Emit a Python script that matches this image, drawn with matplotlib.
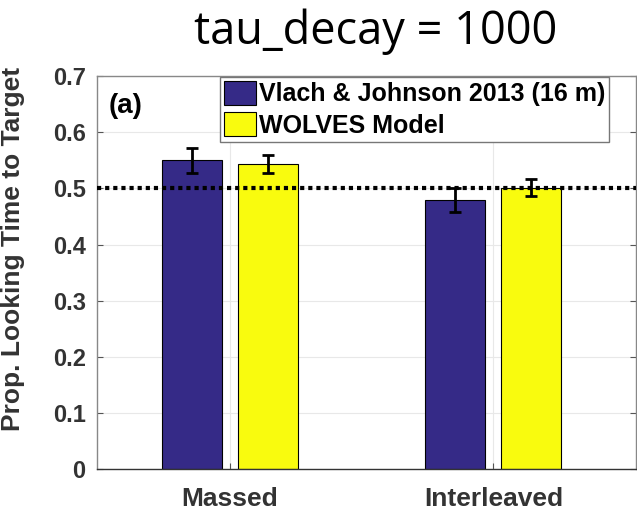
import numpy as np
import matplotlib
matplotlib.use('Agg')
import matplotlib.pyplot as plt

# data
conditions = ['Massed', 'Interleaved']
series = ['Vlach & Johnson 2013 (16 m)', 'WOLVES Model']
vlach = [0.550, 0.479]
vlach_err = [0.022, 0.021]
wolves = [0.543, 0.501]
wolves_err = [0.016, 0.015]
chance = 0.5

plt.rcParams['font.family'] = ['Liberation Sans', 'DejaVu Sans']
tc = '#333333'

fig = plt.figure(figsize=(6.37, 5.11), dpi=100)
ax = fig.add_axes([0.152, 0.082, 0.846, 0.769])

x = np.arange(1, len(conditions) + 1)
w = 0.227
off = 0.144
ax.bar(x - off, vlach, w, color='#352A87', edgecolor='black', lw=0.8,
       label=series[0], zorder=2)
ax.bar(x + off, wolves, w, color='#F9FB0E', edgecolor='black', lw=0.8,
       label=series[1], zorder=2)
ax.errorbar(x - off, vlach, yerr=vlach_err, fmt='none', ecolor='black',
            elinewidth=2, capsize=4, capthick=2, zorder=3)
ax.errorbar(x + off, wolves, yerr=wolves_err, fmt='none', ecolor='black',
            elinewidth=2, capsize=4, capthick=2, zorder=3)
ax.axhline(chance, color='black', lw=3, ls=(0, (1, 0.95)),
           dash_capstyle='butt', zorder=4)

ax.set_xlim(0.496, 2.54)
ax.set_ylim(0, 0.7)
ax.set_yticks(np.arange(0, 0.71, 0.1))
ax.set_yticklabels(['0'] + ['%.1f' % v for v in np.arange(0.1, 0.71, 0.1)])
ax.set_xticks(x)
ax.set_xticklabels(conditions)
ax.grid(True, color='#e8e8e8', lw=0.8, zorder=0)
ax.set_axisbelow(True)
ax.tick_params(axis='y', direction='in', length=4, color='#555555',
               labelsize=17, labelcolor=tc, right=True, pad=8)
ax.tick_params(axis='x', direction='in', length=4, color='#555555',
               labelsize=19, labelcolor=tc, top=True, pad=13)
for lab in ax.get_xticklabels() + ax.get_yticklabels():
    lab.set_fontweight('bold')
for s in ax.spines.values():
    s.set_color('#888888')
    s.set_linewidth(1)
ax.spines['bottom'].set_color('#333333')

ax.set_ylabel('Prop. Looking Time to Target', fontsize=19, fontweight='bold',
              color=tc)
ax.yaxis.set_label_coords(-0.133, 0.56)
ax.text(0.022, 0.925, '(a)', transform=ax.transAxes, fontsize=20,
        fontweight='bold', va='center', ha='left')

leg = ax.legend(loc='upper right', bbox_to_anchor=(0.95, 0.998),
                prop={'weight': 'bold', 'size': 18}, frameon=True,
                fancybox=False, edgecolor='#777777', framealpha=1,
                handlelength=1.3, handleheight=1.1, handletextpad=0.1,
                borderpad=0.15, labelspacing=0.25, borderaxespad=0)
leg.get_frame().set_linewidth(1)

fig.text(0.59, 0.938, 'tau_decay = 1000', fontsize=32.5, ha='center',
         va='center', family='Open Sans')

fig.savefig('out.png', dpi=100)
